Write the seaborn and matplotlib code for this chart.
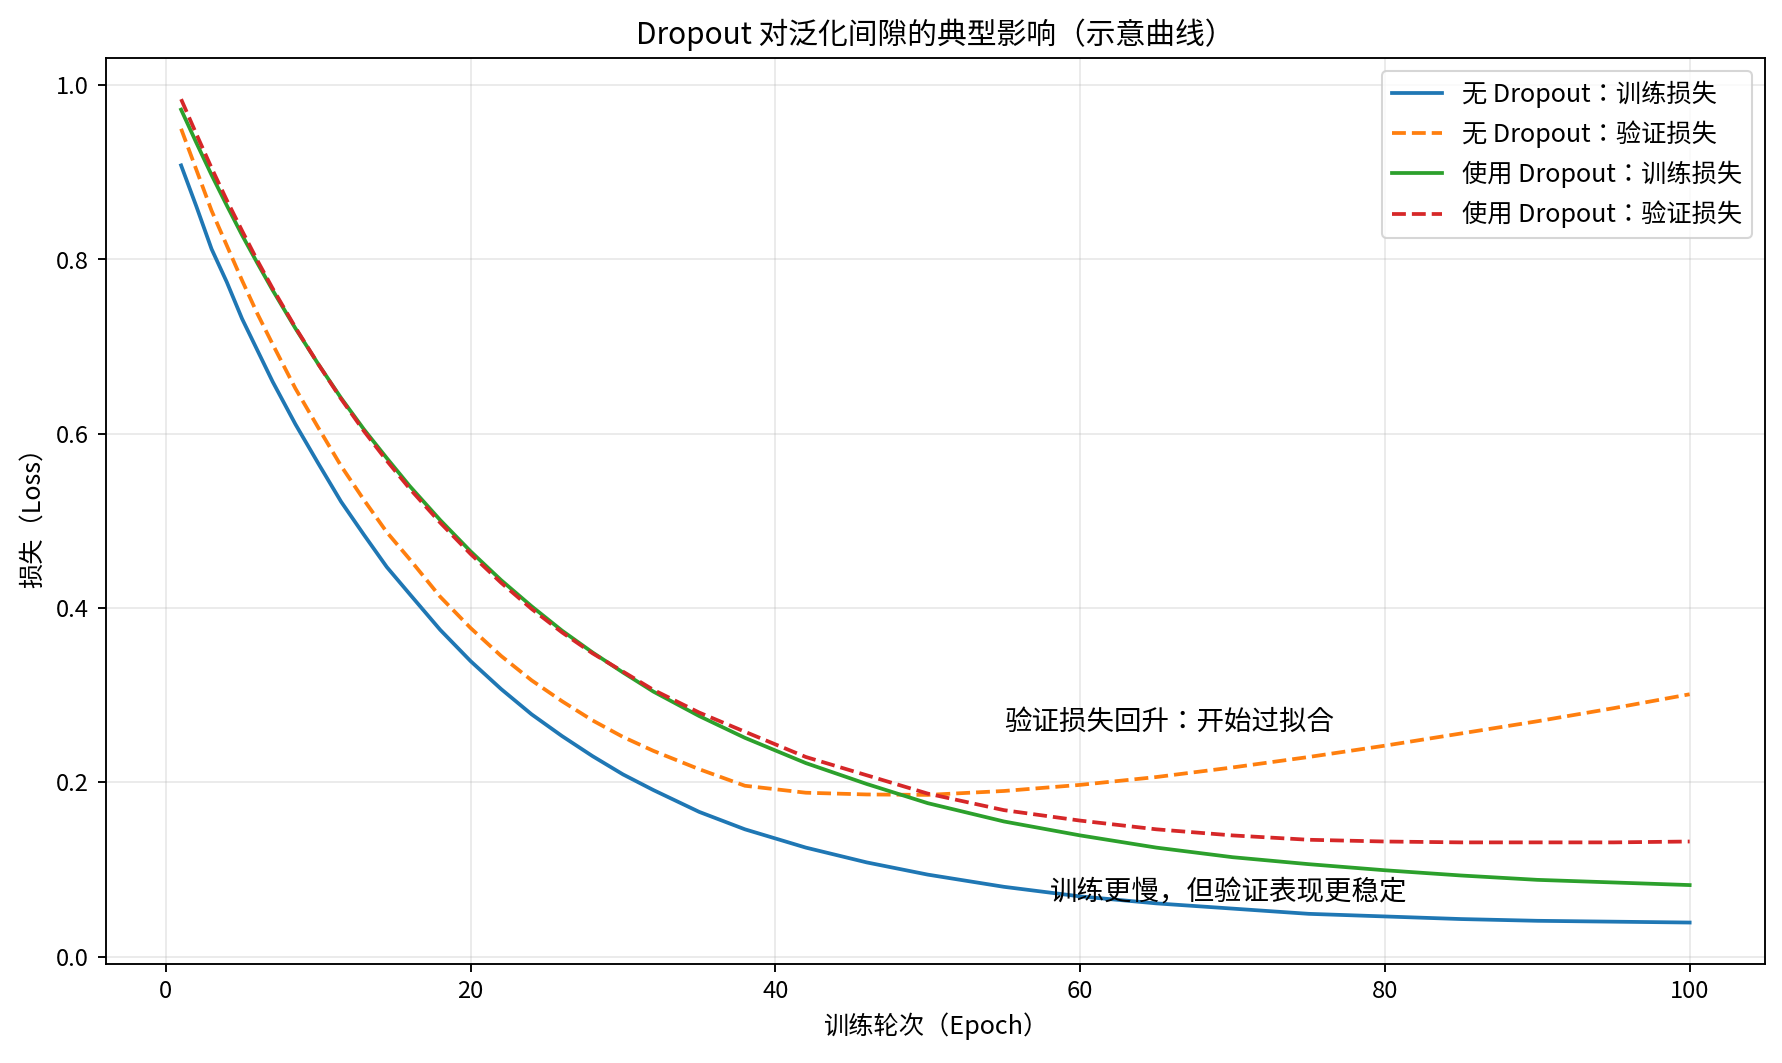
import matplotlib
matplotlib.use("Agg")
import matplotlib.pyplot as plt
import pandas as pd
import seaborn as sns

plt.rcParams["font.family"] = ["Noto Sans CJK JP", "DejaVu Sans"]
plt.rcParams["axes.unicode_minus"] = False

# values
epochs = [1, 2, 3, 4, 5, 6, 7, 8.5, 10, 11.5, 13, 14.5, 16, 18, 20, 22, 24, 26,
          28, 30, 32, 35, 38, 42, 46, 50, 55, 60, 65, 70, 75, 80, 85, 90, 95, 100]
train_no_dropout = [0.908, 0.861, 0.812, 0.774, 0.732, 0.696, 0.660, 0.611, 0.566,
                    0.522, 0.484, 0.447, 0.416, 0.375, 0.339, 0.307, 0.278, 0.253,
                    0.230, 0.209, 0.191, 0.166, 0.146, 0.125, 0.108, 0.094, 0.080,
                    0.069, 0.061, 0.055, 0.049, 0.046, 0.043, 0.041, 0.040, 0.039]
val_no_dropout = [0.950, 0.903, 0.856, 0.816, 0.776, 0.738, 0.703, 0.652, 0.607,
                  0.563, 0.524, 0.487, 0.456, 0.413, 0.377, 0.345, 0.317, 0.293,
                  0.271, 0.252, 0.236, 0.215, 0.196, 0.188, 0.186, 0.1855, 0.190,
                  0.197, 0.206, 0.217, 0.229, 0.242, 0.256, 0.270, 0.285, 0.301]
train_dropout = [0.972, 0.934, 0.897, 0.862, 0.828, 0.796, 0.765, 0.721, 0.680,
                 0.641, 0.605, 0.572, 0.540, 0.501, 0.465, 0.432, 0.402, 0.374,
                 0.349, 0.326, 0.304, 0.276, 0.251, 0.222, 0.198, 0.176, 0.155,
                 0.139, 0.125, 0.114, 0.106, 0.099, 0.093, 0.088, 0.085, 0.082]
val_dropout = [0.984, 0.944, 0.905, 0.868, 0.833, 0.799, 0.767, 0.722, 0.680,
               0.640, 0.603, 0.569, 0.537, 0.498, 0.462, 0.429, 0.399, 0.372,
               0.348, 0.327, 0.306, 0.280, 0.258, 0.229, 0.208, 0.187, 0.168,
               0.156, 0.146, 0.139, 0.134, 0.132, 0.131, 0.131, 0.131, 0.132]

series_labels = ["无 Dropout：训练损失", "无 Dropout：验证损失",
                 "使用 Dropout：训练损失", "使用 Dropout：验证损失"]
series_values = [train_no_dropout, val_no_dropout, train_dropout, val_dropout]
colors = ["#1f77b4", "#ff7f0e", "#2ca02c", "#d62728"]
linestyles = ["-", "--", "-", "--"]

fig, ax = plt.subplots(figsize=(11.88, 7.087), dpi=150)
fig.subplots_adjust(left=0.0593, right=0.9905, top=0.9454, bottom=0.0934)

for label, values, color, ls in zip(series_labels, series_values, colors, linestyles):
    df = pd.DataFrame({"epoch": epochs, "loss": values})
    sns.lineplot(data=df, x="epoch", y="loss", ax=ax, color=color,
                 linestyle=ls, linewidth=1.8, label=label)

ax.text(55, 0.26, "验证损失回升：开始过拟合", fontsize=13.2)
ax.text(58, 0.065, "训练更慢，但验证表现更稳定", fontsize=13.2)

ax.set_title("Dropout 对泛化间隙的典型影响（示意曲线）", fontsize=14.3, pad=6.8)
ax.set_xlabel("训练轮次（Epoch）", fontsize=12.1, labelpad=4.5)
ax.set_ylabel("损失（Loss）", fontsize=12.1, labelpad=4.5)
ax.tick_params(labelsize=11.4, length=4, width=0.9, pad=4)
for spine in ax.spines.values():
    spine.set_linewidth(0.9)
ax.grid(True, alpha=0.3)
ax.legend(loc="upper right", fontsize=12.1)

fig.savefig("out.png", dpi=150)
